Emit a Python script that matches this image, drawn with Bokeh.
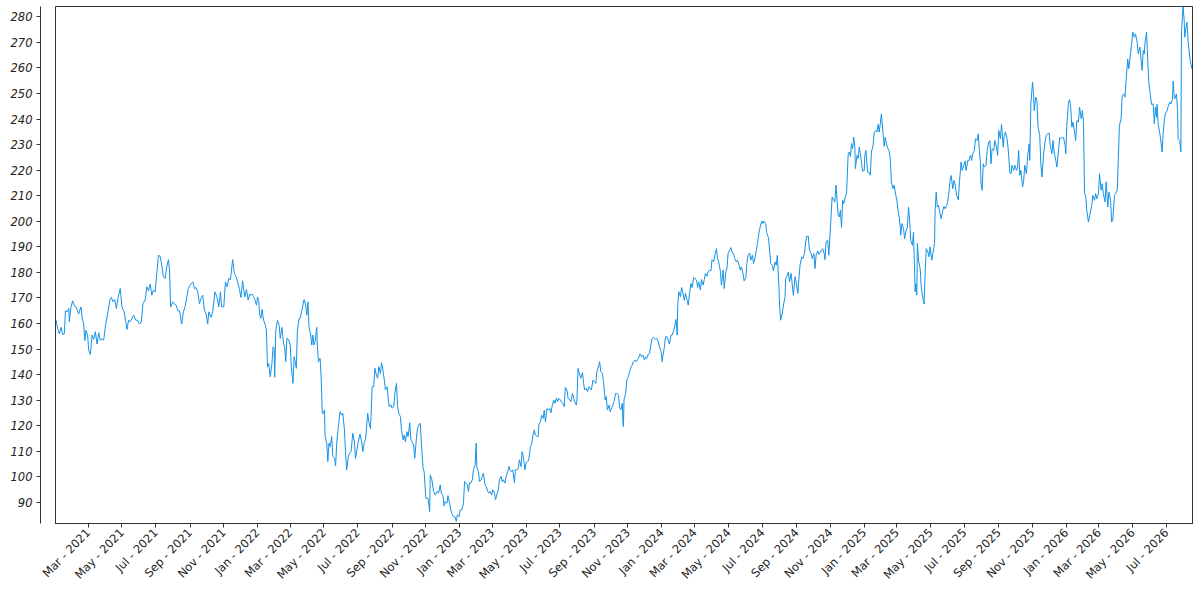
import pandas as pd
from bokeh.plotting import figure
from bokeh.models import Range1d, FixedTicker, DatetimeTickFormatter, LinearAxis, ColumnDataSource
from bokeh.embed import file_html
from bokeh.resources import INLINE

start_date = "2021-01-01"
end_date = "2026-08-17"

day_offset = [
    1, 4, 7, 10, 13, 16, 18, 21, 24, 25,
    28, 31, 34, 37, 42, 43, 46, 48, 51, 53,
    55, 58, 60, 63, 66, 69, 72, 75, 78, 81,
    84, 87, 90, 94, 98, 101, 104, 107, 110, 113,
    117, 120, 124, 127, 129, 132, 135, 139, 141, 145,
    148, 152, 155, 158, 162, 165, 168, 171, 174, 177,
    180, 183, 186, 189, 192, 195, 198, 201, 204, 206,
    208, 212, 214, 218, 221, 224, 228, 231, 234, 237,
    240, 243, 248, 251, 254, 257, 260, 263, 266, 269,
    272, 275, 277, 281, 284, 288, 292, 295, 298, 300,
    304, 307, 310, 313, 316, 320, 323, 326, 329, 332,
    335, 338, 342, 345, 348, 351,
    352, 355, 358, 360, 363, 365, 367, 369, 371, 373,
    376, 379, 381, 383, 385, 388, 391, 393, 395, 396,
    398, 401, 404, 406, 409, 412, 414, 416, 418, 421,
    424, 426, 429, 431, 433, 435, 437, 440, 442, 445,
    447, 449, 452, 454, 456, 458, 461, 463, 465, 467,
    469, 472, 473, 475, 478, 480, 482, 484, 486, 487,
    490, 492, 494, 496, 499, 501, 504, 506, 508, 511,
    514, 517, 519, 522, 524, 526, 529, 531, 534, 537,
    540, 542, 544, 547, 550, 553, 555, 558, 560, 564,
    566, 569, 570, 572, 575, 577, 579, 582, 584, 587,
    589, 591, 594, 596, 599, 601, 603, 606, 608, 611,
    613, 616, 618, 620, 623, 625, 628, 630, 632, 635,
    637, 640, 642, 644, 647, 649, 652, 654, 656, 659,
    661, 664, 666, 669, 671, 673, 676, 677, 680, 683,
    686, 689, 692, 695,
    697, 700, 702, 704, 707, 709, 712, 714, 717, 719,
    722, 724, 726, 729, 731, 734, 737, 739, 741, 744,
    746, 748, 750, 753, 755, 758, 760, 761, 764, 766,
    769, 771, 773, 776, 778, 781, 783, 785, 788, 790,
    793, 795, 797, 800, 802, 805, 807, 809, 812, 814,
    817, 819, 821, 824, 826, 829, 831, 834, 836, 838,
    841, 843, 846, 848, 850, 853, 855, 858, 860, 862,
    865, 867, 870, 872, 873, 876, 878, 881, 883, 885,
    888, 890, 893, 895, 897, 900, 902, 905, 907, 909,
    912, 914, 917, 919, 921, 924, 926, 929, 931, 934,
    936, 938, 941, 942, 944, 947, 949, 952, 954, 956,
    959, 961, 964, 966, 968, 971, 973, 976, 978, 980,
    983, 985, 988, 990, 993, 995, 997, 1000, 1002, 1005,
    1007, 1009, 1012, 1014, 1017, 1019, 1021, 1024, 1025, 1026,
    1027, 1030, 1032, 1035, 1037, 1040, 1042, 1044, 1047, 1049,
    1052, 1054,
    1056, 1059, 1061, 1064, 1066, 1068, 1071, 1073, 1076, 1078,
    1080, 1084, 1086, 1089, 1091, 1094, 1096, 1097, 1100, 1102,
    1105, 1107, 1109, 1112, 1114, 1117, 1119, 1121, 1123, 1124,
    1126, 1129, 1131, 1133, 1136, 1138, 1141, 1143, 1145, 1148,
    1150, 1153, 1155, 1158, 1160, 1162, 1165, 1167, 1170, 1172,
    1174, 1177, 1179, 1182, 1184, 1186, 1189, 1191, 1194, 1196,
    1198, 1201, 1203, 1206, 1208, 1211, 1213, 1215, 1218, 1220,
    1223, 1225, 1227, 1230, 1232, 1235, 1237, 1239, 1242, 1244,
    1247, 1249, 1251, 1254, 1256, 1259, 1261, 1264, 1266, 1268,
    1271, 1273, 1276, 1278, 1280, 1283, 1285, 1288, 1290, 1292,
    1295, 1297, 1300, 1302, 1304, 1307, 1308, 1310, 1313, 1315,
    1318, 1319, 1321, 1324, 1326, 1329, 1331, 1333, 1336, 1338,
    1341, 1343, 1345, 1348, 1350, 1353, 1355, 1357, 1360, 1362,
    1365, 1367, 1370, 1372, 1374, 1377, 1379, 1382, 1384, 1386,
    1389, 1390, 1392, 1395, 1397, 1400,
    1403, 1406, 1408, 1410, 1412, 1414, 1416, 1418, 1420, 1422,
    1424, 1427, 1429, 1432, 1434, 1436, 1438, 1440, 1442, 1444,
    1445, 1448, 1450, 1452, 1454, 1456, 1458, 1461, 1462, 1464,
    1467, 1469, 1472, 1474, 1477, 1479, 1482, 1484, 1486, 1488,
    1490, 1492, 1495, 1497, 1499, 1501, 1504, 1506, 1508, 1510,
    1513, 1515, 1518, 1520, 1522, 1524, 1526, 1527, 1529, 1532,
    1534, 1536, 1539, 1541, 1543, 1545, 1548, 1550, 1551, 1553,
    1554, 1556, 1557, 1559, 1562, 1564, 1566, 1569, 1571, 1573,
    1576, 1578, 1580, 1583, 1585, 1588, 1589, 1591, 1593, 1595,
    1598, 1600, 1603, 1605, 1607, 1610, 1612, 1614, 1616, 1618,
    1621, 1623, 1625, 1628, 1631, 1633, 1636, 1638, 1641, 1643,
    1645, 1648, 1650, 1653, 1655, 1657, 1660, 1662, 1665, 1667,
    1669, 1671, 1672, 1674, 1676, 1678, 1681, 1683, 1686, 1688,
    1690, 1692, 1695, 1697, 1700, 1702, 1704, 1707, 1709, 1712,
    1714, 1716, 1719, 1721, 1724,
    1726, 1728, 1731, 1733, 1736, 1738, 1740, 1742, 1744, 1747,
    1749, 1751, 1754, 1756, 1759, 1760, 1762, 1765, 1767, 1768,
    1771, 1773, 1775, 1778, 1780, 1782, 1785, 1788, 1790, 1792,
    1795, 1797, 1800, 1802, 1804, 1807, 1809, 1812, 1814, 1816,
    1819, 1821, 1824, 1825, 1827, 1830, 1832, 1834, 1836, 1838,
    1840, 1843, 1845, 1848, 1850, 1853, 1855, 1857, 1859, 1861,
    1863, 1866, 1869, 1872, 1874, 1877, 1879, 1881, 1884, 1886,
    1889, 1891, 1893, 1896, 1898, 1901, 1903, 1906, 1908, 1910,
    1913, 1915, 1918, 1920, 1922, 1925, 1927, 1930, 1932, 1934,
    1937, 1939, 1942, 1944, 1946, 1949, 1951, 1954, 1956, 1959,
    1961, 1963, 1965, 1967, 1968, 1971, 1973, 1975, 1978, 1980,
    1983, 1985, 1987, 1989, 1990, 1992, 1995, 1996, 1999, 2001,
    2003, 2005, 2008, 2010, 2013, 2015, 2018, 2019, 2021, 2022,
    2025, 2027, 2028, 2031, 2033, 2034, 2036, 2037, 2039, 2040,
    2042, 2044, 2046, 2049, 2051, 2053,
]

price = [
    161.3, 158, 156, 158.5, 155.7, 156, 165, 164.6, 165.9, 160.7,
    166.5, 168.9, 166.9, 166.5, 163.7, 164.6, 166.5, 162.4, 159.8, 153.3,
    157.4, 155.5, 149.6, 147.9, 155.5, 153.8, 156.8, 152, 156.4, 153.5,
    154, 153.5, 158.7, 163.7, 168.9, 170.2, 168.5, 169.4, 165.9, 170.2,
    173.7, 166.5, 164.6, 160.7, 157.7, 161.3, 160.7, 162.4, 163.3, 161.3,
    161.3, 159.8, 160.7, 167.8, 169.2, 174.4, 172.8, 175.4, 171.1, 173.1,
    172.4, 179.6, 186.7, 186.3, 182.8, 178.3, 177.6, 182.2, 185, 180.9,
    166.5, 168.5, 167.8, 167.2, 165, 165, 159.8, 164.6, 166.5, 170.2,
    173.7, 175, 176.3, 173.7, 174.1, 172.4, 167.8, 169.8, 171.1, 165.2,
    163.9, 159.8, 164.6, 162.4, 164.6, 172.4, 170.2, 166.5, 172.4, 166.5,
    166.5, 176.3, 174.4, 177.6, 177.2, 185, 179.6, 178.5, 176.3, 173.7,
    170.2, 176.7, 170.4, 173.3, 169.2, 171.5,
    171.1, 171.5, 170.4, 169.4, 167.2, 170.4, 169.1, 163.3, 162, 165.5,
    161.3, 159.4, 157.4, 143.1, 144.4, 139.2, 144.4, 150.9, 150.3, 139,
    157.4, 161.3, 159.4, 154.2, 158.5, 152.2, 150.9, 145.1, 154.2, 153.8,
    151.6, 143.1, 136.6, 147, 145.1, 142.5, 157.4, 162, 162, 165.2,
    167.2, 169.4, 167.2, 163.3, 168.5, 158.7, 155.5, 151.6, 155.5, 151.6,
    152.9, 158.5, 151.6, 145.1, 146.4, 138.6, 124.9, 124.9, 126.2, 115.8,
    113.2, 106, 113.2, 111.9, 115.8, 108, 107.3, 104.3, 113.2, 119.7,
    125.5, 124.2, 124.9, 118.4, 109.3, 102.8, 108, 109.3, 109.9, 117.1,
    113.8, 107.3, 109.9, 113.8, 116.8, 113.8, 109.9, 113.8, 114.5, 124.9,
    121.6, 119, 123.6, 135.3, 135.3, 142.5, 140.5, 138.6, 143.1, 140.5,
    144.7, 142.5, 137.9, 134, 135.3, 130.8, 127.5, 128.2, 126.9, 127.5,
    132.7, 136.6, 127.5, 124.9, 123.6, 118.4, 114.5, 116.4, 113.8, 117.7,
    115.8, 121.2, 114.5, 113.8, 112.5, 107.3, 115.1, 119, 120.3, 121,
    113.2, 103.4, 102.1, 91.7, 91.7, 91.7, 86.5, 100.8, 98.9, 94.3,
    93, 94.3, 93.7, 96.9,
    93.7, 92.6, 88.7, 90.4, 89.7, 92.7, 89.7, 87.1, 85.2, 84.5,
    84.3, 82.6, 85.2, 84.5, 87.1, 87.1, 89.7, 98.2, 97.6, 96.9,
    94.3, 97.8, 97.6, 98.9, 102.8, 104.7, 113.2, 104.1, 102.1, 98.2,
    98.9, 100.2, 101.5, 96.9, 96.3, 94.3, 93.7, 94.3, 93, 95,
    93.7, 91.1, 93, 95, 98.9, 100.2, 98.2, 98.9, 97.6, 100.2,
    102.1, 104.1, 102.8, 102.1, 102.8, 97.8, 102.8, 102.8, 103.4, 106.7,
    104.1, 109.9, 106.7, 102.8, 105.4, 106, 106.7, 111.9, 112.5, 115.8,
    118.4, 116.4, 115.8, 115.8, 120.3, 121.6, 124.2, 122.9, 126.2, 121.6,
    126.8, 126.2, 126.8, 125.1, 127.5, 130.1, 128.8, 130.8, 129.4, 130.8,
    130.1, 129.4, 128.5, 127.5, 135, 134, 130.8, 130.1, 129.4, 132.7,
    130.8, 129.4, 128.1, 130.1, 142.5, 139.9, 138.6, 140.8, 136.6, 134,
    134.7, 133.4, 135.3, 134.7, 134, 137.9, 137.3, 136.6, 141.2, 142.5,
    145.1, 141.2, 140.5, 137.3, 130.1, 131.4, 126.2, 128.1, 125.5, 127.2,
    128.1, 129.4, 132.7, 132.7, 132, 127.5, 126.2, 128.8, 121.6, 119.7,
    130.1, 132.7, 137.9, 139.2, 141.2, 143.1, 143.8, 145.1, 145.7, 145.1,
    146, 147,
    148.1, 147, 147.7, 145.7, 147, 146.4, 148.1, 148.3, 152.2, 154.2,
    154.6, 153.8, 154.2, 152.9, 150.9, 149, 145.1, 147, 150.9, 154.8,
    154.8, 153.5, 152, 155.5, 155.5, 157.4, 159.4, 161.6, 155.5, 166.6,
    172.4, 170.5, 174.1, 172.4, 169.1, 171.8, 169.1, 167.2, 171.1, 175.7,
    174.1, 178, 177.6, 177, 174.1, 176.3, 173.1, 177.2, 175, 177.2,
    179.6, 178.5, 180.2, 180.9, 180.6, 185, 184.1, 186.7, 189.3, 185.4,
    184.1, 180.6, 175, 180.9, 173.7, 180.2, 181.5, 187.4, 188.7, 189.7,
    187.4, 187.4, 185.4, 184.1, 184.8, 182.8, 180.9, 182.2, 179.6, 176.7,
    178, 183.5, 186.7, 187.6, 184.8, 186.7, 183.5, 186.1, 188.7, 191.3,
    195.8, 197.8, 200.1, 199.1, 200.1, 199.1, 195.2, 193.6, 188.7, 183.5,
    182.8, 180.6, 184.1, 182.8, 186.7, 174.4, 167.2, 161.3, 164, 167.2,
    170.5, 177.6, 178.3, 180.2, 176.3, 179.6, 175, 171.1, 178.3, 176.3,
    171.8, 177.6, 182.8, 186.1, 185.4, 187.4, 191.5, 194.1, 194.1, 188.7,
    187.4, 185.4, 187.4, 181.5, 186.7, 188.4, 187.1, 188, 188.9, 189.3,
    187.1, 185, 191.9, 192.6, 186.7, 197.8,
    209.5, 208.2, 207.5, 214.1, 208.2, 202.3, 201.7, 204.3, 197.5, 208.2,
    206.9, 209.5, 210.8, 226.4, 227.1, 225.4, 230.3, 228.4, 232.9, 229,
    220.6, 225.8, 224.5, 229, 226.4, 223.2, 219.6, 219.9, 225.8, 227.7,
    219.3, 219.3, 218, 227.1, 229.7, 234.9, 235.5, 234.9, 237.9, 234.9,
    238.1, 242, 234.2, 229.3, 232.9, 230.3, 228.4, 227.4, 224.5, 215.3,
    212.8, 214.1, 210.1, 208.2, 204.3, 201.7, 197.8, 194.5, 199.1, 197.1,
    193.2, 195.8, 197.8, 205.6, 200.4, 192.6, 190.6, 195.8, 188, 172.4,
    175.6, 171.1, 191.3, 184.8, 181.5, 174.4, 171.1, 167.6, 179.6, 189.3,
    188, 186.1, 190, 184.8, 187.4, 191.3, 204.3, 211.4, 205.6, 206.2,
    202.9, 201, 204.3, 205.8, 204.9, 206.2, 207.9, 211.4, 216, 217.9,
    212.7, 216, 214.7, 210.1, 208.4, 215.4, 223.2, 219.9, 221.9, 223.6,
    219.9, 223.8, 223.6, 225.8, 223.8, 226.4, 227.7, 232.3, 231.6, 234.2,
    227.7, 222.5, 214.7, 212.1, 222.5, 221.2, 221.9, 227.7, 231, 231.6,
    222.5, 228.4, 227.7, 231.6, 229, 225.8, 235.5, 232.3, 237.9, 229,
    233.6, 234.9, 232.3, 228.4, 219.3,
    218.6, 221.9, 219.9, 221.9, 219.9, 221.2, 227.7, 218, 219.9, 213.4,
    216, 221.9, 218.6, 225.1, 230.3, 223.8, 246, 254.4, 249.2, 243.3,
    248.5, 247.2, 236.8, 233.6, 222.5, 217.3, 226.4, 231.6, 233.6, 234.2,
    234.5, 229.7, 226.4, 231.6, 227.1, 223.8, 221.2, 227.7, 232.7, 232.3,
    232.9, 232.7, 229.7, 226.4, 237.5, 246.6, 247.5, 244.6, 236.8, 238.8,
    236.2, 231.6, 239.4, 238.8, 244.6, 240.1, 243.3, 239.4, 210.8, 210.1,
    204.3, 199.7, 203, 206.2, 210.1, 208.2, 210.8, 208.8, 210.8, 218.6,
    212.1, 214.7, 210.8, 207.5, 215.4, 205.6, 211.5, 208.2, 199.7, 200.4,
    210.1, 210.8, 212.1, 224.5, 237.5, 240.1, 249.2, 249.8, 248.5, 255,
    263.5, 259.6, 265.5, 269.4, 274, 272, 273.3, 270, 265.5, 268.1,
    263.5, 259, 266.8, 265.5, 269.4, 274, 263.5, 254.4, 249.2, 245.7,
    245.9, 238.1, 244.6, 240.7, 245.7, 238.1, 234.2, 232.9, 227.1, 234.2,
    239.4, 242, 243.3, 244.9, 246.6, 245.9, 247.9, 254.8, 248.5, 247.9,
    249.8, 243.3, 232.3, 231.6, 227.1, 273.3, 281.1, 284, 278.5, 272,
    275.2, 277.8, 270.7, 264.2, 261.6, 259.6,
]

y_ticks = [90, 100, 110, 120, 130, 140, 150, 160, 170, 180, 190, 200,
           210, 220, 230, 240, 250, 260, 270, 280]
y_min, y_max = 81.8, 284.0

x_tick_months = [
    "2021-03", "2021-05", "2021-07", "2021-09", "2021-11",
    "2022-01", "2022-03", "2022-05", "2022-07", "2022-09", "2022-11",
    "2023-01", "2023-03", "2023-05", "2023-07", "2023-09", "2023-11",
    "2024-01", "2024-03", "2024-05", "2024-07", "2024-09", "2024-11",
    "2025-01", "2025-03", "2025-05", "2025-07", "2025-09", "2025-11",
    "2026-01", "2026-03", "2026-05", "2026-07",
]

assert len(day_offset) == len(price), (len(day_offset), len(price))

dates = pd.to_datetime(start_date) + pd.to_timedelta(day_offset, unit="D")
src = ColumnDataSource(dict(date=dates, price=price))

AX = "#333333"
FONT = "DejaVu Sans"

p = figure(
    width=1196, height=596,
    x_axis_type="datetime", y_axis_location=None,
    x_range=Range1d(pd.Timestamp(start_date), pd.Timestamp(end_date)),
    y_range=Range1d(y_min, y_max),
    output_backend="svg", toolbar_location=None,
    min_border_left=55, min_border_right=4, min_border_top=6, min_border_bottom=73,
)
p.background_fill_color = "white"
p.border_fill_color = "white"
p.outline_line_color = AX
p.outline_line_width = 1
p.xgrid.grid_line_color = None
p.ygrid.grid_line_color = None

p.line("date", "price", source=src, line_color="#1592e6", line_width=1)

yax = LinearAxis(
    ticker=FixedTicker(ticks=y_ticks),
    axis_line_color=AX, axis_line_width=1,
    major_tick_line_color=AX, major_tick_out=4, major_tick_in=0,
    minor_tick_line_color=None,
    major_label_text_font=FONT, major_label_text_font_size="11.5px",
    major_label_text_font_style="italic", major_label_text_color="#222222",
    major_label_standoff=4,
)
# near-invisible spacer axis that detaches the y axis from the frame by 15px
spacer = LinearAxis(
    ticker=FixedTicker(ticks=[y_ticks[0]]), axis_line_color=None,
    major_tick_line_color="white", major_tick_line_alpha=0.01,
    minor_tick_line_color=None,
    major_tick_out=15, major_tick_in=0, minor_tick_out=0, minor_tick_in=0,
    major_label_overrides={y_ticks[0]: ""},
    major_label_text_font_size="1px", major_label_text_color="white",
    major_label_standoff=0,
)
p.add_layout(spacer, "left")
p.add_layout(yax, "left")

x_ticks_ms = [pd.Timestamp(m + "-01").value / 1e6 for m in x_tick_months]
fmt = "%b - %Y"
xa = p.xaxis[0]
xa.ticker = FixedTicker(ticks=x_ticks_ms)
xa.formatter = DatetimeTickFormatter(
    milliseconds=fmt, seconds=fmt, minsec=fmt, minutes=fmt, hourmin=fmt,
    hours=fmt, days=fmt, months=fmt, years=fmt, context=None,
)
xa.major_label_orientation = 0.8
xa.major_label_text_font = FONT
xa.major_label_text_font_size = "11.5px"
xa.major_label_text_color = "#222222"
xa.major_label_standoff = 3
xa.axis_line_color = AX
xa.major_tick_line_color = AX
xa.major_tick_out = 4
xa.major_tick_in = 0
xa.minor_tick_line_color = None

open("out.html", "w").write(file_html(p, INLINE))
